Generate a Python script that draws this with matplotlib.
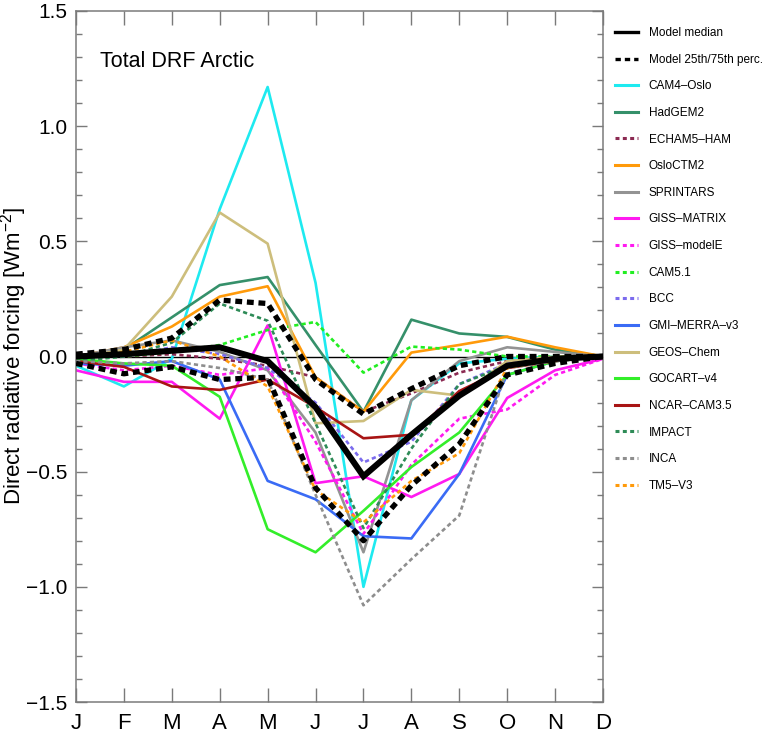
import matplotlib
matplotlib.use("Agg")
import matplotlib.pyplot as plt
from matplotlib.lines import Line2D
from matplotlib.ticker import MultipleLocator
import numpy as np

# ---- data ---------------------------------------------------------------
months = ['J', 'F', 'M', 'A', 'M', 'J', 'J', 'A', 'S', 'O', 'N', 'D']

median = [0.0, 0.01, 0.025, 0.04, -0.02, -0.22, -0.52, -0.34, -0.17, -0.04, -0.01, 0.0]
perc75 = [0.01, 0.03, 0.08, 0.245, 0.23, -0.10, -0.25, -0.14, -0.04, 0.0, 0.0, 0.0]
perc25 = [-0.03, -0.075, -0.045, -0.10, -0.09, -0.57, -0.80, -0.56, -0.38, -0.08, -0.03, 0.0]

cam4_oslo = [-0.04, -0.13, -0.01, 0.64, 1.17, 0.32, -1.0, -0.19, -0.03, -0.01, 0.0, 0.0]
hadgem2 = [-0.02, 0.03, 0.17, 0.31, 0.345, 0.05, -0.24, 0.16, 0.10, 0.085, 0.03, 0.0]
echam5_ham = [0.0, 0.0, 0.01, -0.01, -0.04, -0.09, -0.24, -0.16, -0.07, -0.02, -0.01, 0.0]
osloctm2 = [0.0, 0.04, 0.13, 0.26, 0.305, -0.09, -0.24, 0.017, 0.05, 0.086, 0.04, 0.0]
sprintars = [0.0, 0.04, 0.07, 0.02, -0.06, -0.33, -0.85, -0.19, -0.02, 0.04, 0.02, 0.0]
giss_matrix = [-0.06, -0.11, -0.11, -0.27, 0.135, -0.55, -0.52, -0.61, -0.51, -0.18, -0.06, -0.01]
giss_modele = [-0.03, -0.06, -0.04, -0.08, -0.05, -0.37, -0.77, -0.47, -0.27, -0.23, -0.08, -0.01]
cam51 = [-0.01, 0.0, 0.02, 0.05, 0.115, 0.15, -0.07, 0.043, 0.03, 0.0, 0.0, 0.0]
bcc = [0.0, 0.0, 0.04, 0.01, -0.05, -0.20, -0.46, -0.37, -0.12, -0.03, -0.01, 0.0]
gmi_merra = [-0.03, -0.04, -0.02, -0.10, -0.54, -0.62, -0.78, -0.79, -0.51, -0.08, -0.02, 0.0]
geos_chem = [-0.01, 0.03, 0.26, 0.625, 0.49, -0.29, -0.28, -0.145, -0.17, -0.02, 0.0, 0.0]
gocart_v4 = [-0.01, -0.03, -0.04, -0.175, -0.75, -0.85, -0.67, -0.48, -0.33, -0.08, -0.02, 0.0]
ncar_cam35 = [-0.02, -0.045, -0.13, -0.145, -0.10, -0.22, -0.355, -0.34, -0.15, -0.05, -0.02, 0.0]
impact = [-0.02, 0.0, 0.06, 0.23, 0.155, -0.29, -0.745, -0.40, -0.12, -0.04, -0.01, 0.0]
inca = [-0.02, -0.03, -0.02, -0.05, -0.10, -0.60, -1.08, -0.88, -0.69, -0.05, -0.02, 0.0]
tm5_v3 = [0.0, 0.02, 0.07, 0.0, -0.13, -0.58, -0.72, -0.54, -0.42, -0.05, -0.01, 0.0]

ytick_vals = [-1.5, -1.0, -0.5, 0.0, 0.5, 1.0, 1.5]
ytick_labels = ['\u22121.5', '\u22121.0', '\u22120.5', '0.0', '0.5', '1.0', '1.5']

# (label, values, colour, dotted?)
models = [
    ("CAM4\u2013Oslo", cam4_oslo, "#1EEAF0", False),
    ("HadGEM2", hadgem2, "#35906A", False),
    ("ECHAM5\u2013HAM", echam5_ham, "#8B2A52", True),
    ("OsloCTM2", osloctm2, "#FF9A0A", False),
    ("SPRINTARS", sprintars, "#939393", False),
    ("GISS\u2013MATRIX", giss_matrix, "#FF1AF0", False),
    ("GISS\u2013modelE", giss_modele, "#FF1AF0", True),
    ("CAM5.1", cam51, "#22EE22", True),
    ("BCC", bcc, "#7B6BEE", True),
    ("GMI\u2013MERRA\u2013v3", gmi_merra, "#3A6BF5", False),
    ("GEOS\u2013Chem", geos_chem, "#CDBE7C", False),
    ("GOCART\u2013v4", gocart_v4, "#33EE2A", False),
    ("NCAR\u2013CAM3.5", ncar_cam35, "#A81414", False),
    ("IMPACT", impact, "#2E8B57", True),
    ("INCA", inca, "#8E8E8E", True),
    ("TM5\u2013V3", tm5_v3, "#FF9A0A", True),
]

# ---- style ---------------------------------------------------------------
plt.rcParams['font.family'] = ['Liberation Sans', 'DejaVu Sans']
plt.rcParams['mathtext.fontset'] = 'custom'
plt.rcParams['mathtext.rm'] = 'Liberation Sans'
plt.rcParams['mathtext.it'] = 'Liberation Sans:italic'

frame_col = '#7a7a7a'

fig = plt.figure(figsize=(7.63, 7.40), dpi=100)
ax = fig.add_axes([76 / 763, 38 / 740, 527 / 763, 691 / 740])

x = np.arange(len(months))

ax.axhline(0.0, color='black', lw=1.0, zorder=1)

dotted = (0, (1.6, 1.2))
for label, vals, col, is_dot in models:
    ax.plot(x, vals, color=col, lw=1.9, ls=dotted if is_dot else '-',
            zorder=2)

ax.plot(x, median, color='black', lw=4.4, solid_joinstyle='miter', zorder=4)
ax.plot(x, perc75, color='black', lw=3.8, ls=(0, (1.3, 0.9)), zorder=3)
ax.plot(x, perc25, color='black', lw=3.8, ls=(0, (1.3, 0.9)), zorder=3)

ax.set_xlim(0, 11)
ax.set_ylim(-1.5, 1.5)
ax.set_xticks(x)
ax.set_xticklabels(months)
ax.set_yticks(ytick_vals)
ax.set_yticklabels(ytick_labels)
ax.yaxis.set_minor_locator(MultipleLocator(0.1))

ax.tick_params(axis='x', which='major', direction='in', length=10, width=1.0,
               color=frame_col, top=True, bottom=True, labelsize=16, pad=8)
ax.tick_params(axis='y', which='major', direction='in', length=8, width=1.0,
               color=frame_col, left=True, right=True, labelsize=15, pad=6)
ax.tick_params(axis='y', which='minor', direction='in', length=4.5, width=1.0,
               color=frame_col, left=True, right=True)
for sp in ax.spines.values():
    sp.set_color(frame_col)
    sp.set_linewidth(1.1)

fig.text(14 / 763, 1 - 356 / 740, 'Direct radiative forcing [Wm$^{-2}$]',
         rotation=90, fontsize=16, ha='center', va='center')

ax.text(0.045, 0.927, 'Total DRF Arctic', transform=ax.transAxes,
        fontsize=15.5, va='center', ha='left')

# ---- legend -------------------------------------------------------------
handles = [Line2D([], [], color='black', lw=2.4),
           Line2D([], [], color='black', lw=2.4, ls=(0, (1.6, 1.2)))]
labels = ['Model median', 'Model 25th/75th perc.']
for label, vals, col, is_dot in models:
    handles.append(Line2D([], [], color=col, lw=2.2,
                          ls=(0, (1.3, 1.1)) if is_dot else '-'))
    labels.append(label)

leg = ax.legend(handles, labels, loc='upper left',
                bbox_to_anchor=(615 / 763, 1 - 27 / 740),
                bbox_transform=fig.transFigure, frameon=False,
                fontsize=8.5, handlelength=1.95, handletextpad=0.9,
                labelspacing=1.24, borderpad=0, borderaxespad=0)

fig.savefig('out.png', dpi=100)
